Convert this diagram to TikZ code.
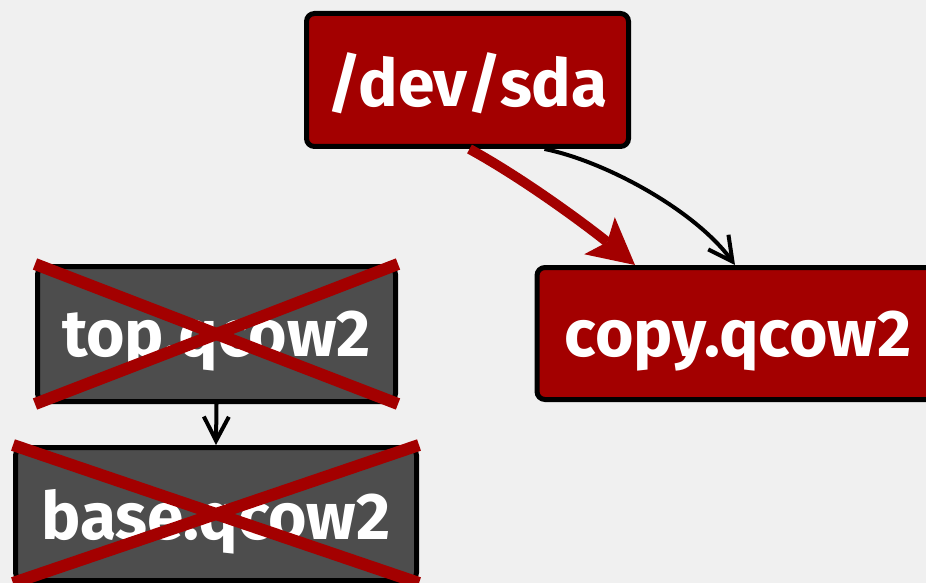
\documentclass[tikz,border=0pt]{standalone}
\usepackage{fontspec}
\setsansfont{Fira Sans}
\usetikzlibrary{arrows.meta}
\definecolor{paper}{HTML}{F0F0F0}
\definecolor{rhred}{HTML}{A30000}
\definecolor{disk}{HTML}{4D4D4D}

\begin{document}
\begin{tikzpicture}[x=1pt,y=-1pt,
  box/.style={draw=black, line width=5pt, rounded corners=8pt, inner sep=0pt,
    text=white, text depth=0pt,
    font=\sffamily\bfseries\fontsize{66}{66}\selectfont},
  live/.style={box, fill=rhred},
  gone/.style={box, fill=disk},
  crossout/.style={draw=rhred, line width=12pt},
  thinlink/.style={draw=black, line width=4pt,
    -{Straight Barb[length=24pt,width=25pt]}},
  copylink/.style={draw=rhred, line width=10pt,
    -{Stealth[length=46pt,width=48pt,inset=10pt,line width=0pt]}}
]
\fill[paper] (0,0) rectangle (926,583);
\useasboundingbox (0,0) rectangle (926,583);

% source device and the new copy
\node[live, minimum width=322pt, minimum height=133pt] (sda) at (467.5,80) {/dev/sda};
\node[live, minimum width=402pt, minimum height=132pt] (copy) at (738,333.5) {copy.qcow2};

% discarded backing chain
\node[gone, minimum width=358pt, minimum height=135pt] (top) at (216.5,334) {top.qcow2};
\node[gone, minimum width=401pt, minimum height=133pt] (base) at (216,514) {base.qcow2};

\draw[thinlink] (top.south) -- (base.north);

\draw[crossout] (top.north west) -- (top.south east);
\draw[crossout] (top.south west) -- (top.north east);
\draw[crossout] (base.north west) -- (base.south east);
\draw[crossout] (base.south west) -- (base.north east);

% copy connectors
\draw[thinlink] ([xshift=77pt]sda.south) .. controls +(60,12) and +(-40,-55) .. ([xshift=-3pt]copy.north);
\draw[copylink] ([xshift=2pt]sda.south) .. controls +(60,33) and +(-40,-33) .. ([xshift=-103pt]copy.north);
\end{tikzpicture}
\end{document}
